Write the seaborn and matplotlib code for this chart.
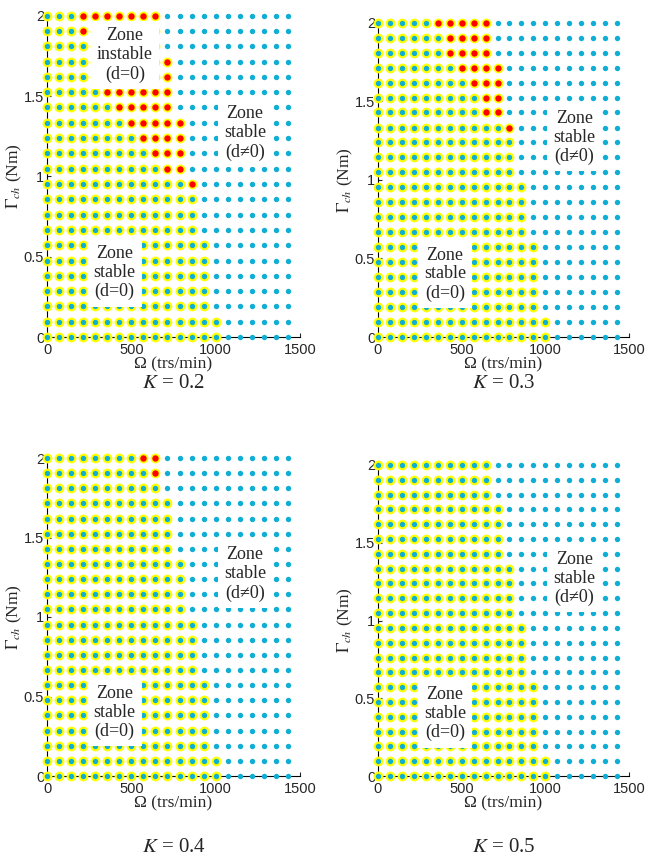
import pandas as pd
import matplotlib.pyplot as plt
import seaborn as sns

# grid of operating points
omega = [0, 71.4, 142.9, 214.3, 285.7, 357.1, 428.6, 500, 571.4, 642.9, 714.3,
         785.7, 857.1, 928.6, 1000, 1071.4, 1142.9, 1214.3, 1285.7, 1357.1, 1428.6]
gamma = [2.0, 1.905, 1.81, 1.714, 1.619, 1.524, 1.429, 1.333, 1.238, 1.143, 1.048,
         0.952, 0.857, 0.762, 0.667, 0.571, 0.476, 0.381, 0.286, 0.19, 0.095, 0.0]

# last column (index in omega) of the d=0 zone, one per gamma row
zone_last = [9, 9, 9, 10, 10, 10, 10, 11, 11, 11, 11, 12, 12, 12, 12, 13, 13, 13, 13, 13, 14, 14]

# instable points: (gamma row, first omega col, last omega col)
red_02 = [(0, 3, 9), (1, 3, 9), (3, 10, 10), (4, 10, 10), (5, 5, 10), (6, 6, 10),
          (7, 7, 11), (8, 8, 11), (9, 9, 11), (10, 10, 11), (11, 12, 12)]
red_03 = [(0, 5, 9), (1, 6, 9), (2, 6, 9), (3, 7, 10), (4, 8, 10), (5, 9, 10),
          (6, 9, 10), (7, 11, 11)]
red_04 = [(0, 8, 9), (1, 9, 9)]
red_05 = []

k_values = ["0.2", "0.3", "0.4", "0.5"]
red_sets = [red_02, red_03, red_04, red_05]

CYAN = "#0FAED4"
YELLOW = "#FFFF00"
RED = "#FF0000"
SERIF = ["Liberation Serif", "DejaVu Serif"]

sns.set_style("white")
plt.rcParams["font.family"] = ["Liberation Sans", "DejaVu Sans"]
plt.rcParams["mathtext.fontset"] = "stix"


def make_frame(red):
    rows = []
    red_cells = {(r, c) for r, a, b in red for c in range(a, b + 1)}
    for i, g in enumerate(gamma):
        for j, w in enumerate(omega):
            if (i, j) in red_cells:
                state = "instable"
            elif j <= zone_last[i]:
                state = "zone"
            else:
                state = "out"
            rows.append({"omega": w, "gamma": g, "state": state})
    return pd.DataFrame(rows)


W, H = 661, 865
fig = plt.figure(figsize=(W / 100, H / 100), dpi=100)

# axes boxes in pixels: left, right, top, bottom
boxes = [(47, 300, 15.7, 337), (378, 629, 22.7, 337),
         (47, 300, 458, 776), (378, 629, 465, 776)]
captions_y = [384, 384, 848, 848]

for k, red, (x0, x1, yt, yb), cy in zip(k_values, red_sets, boxes, captions_y):
    ax = fig.add_axes([x0 / W, 1 - yb / H, (x1 - x0) / W, (yb - yt) / H])
    df = make_frame(red)
    ring = df[df.state != "out"]

    sns.scatterplot(data=ring, x="omega", y="gamma", ax=ax, color=YELLOW, s=50,
                    linewidth=0, clip_on=False, zorder=3, legend=False)
    sns.scatterplot(data=df[df.state != "instable"], x="omega", y="gamma", ax=ax,
                    color=CYAN, s=15, linewidth=0, clip_on=False, zorder=4, legend=False)
    sns.scatterplot(data=df[df.state == "instable"], x="omega", y="gamma", ax=ax,
                    color=RED, s=21, linewidth=0, clip_on=False, zorder=4, legend=False)

    ax.set_xlim(0, 1500)
    ax.set_ylim(0, 2)
    ax.set_xticks([0, 500, 1000, 1500])
    ax.set_yticks([0, 0.5, 1, 1.5, 2])
    ax.set_yticklabels(["0", "0.5", "1", "1.5", "2"])
    sns.despine(ax=ax)
    for side in ["left", "bottom"]:
        ax.spines[side].set_color("black")
        ax.spines[side].set_linewidth(0.8)
        ax.spines[side].set_zorder(1)
    ax.tick_params(direction="in", length=3, width=0.8, labelsize=10.5, pad=2,
                   left=True, bottom=True)
    ax.tick_params(axis="x", pad=4)
    ax.set_xlabel("Ω (trs/min)", family=SERIF, fontsize=12.5, labelpad=0)
    ax.set_ylabel(r"$\Gamma_{ch}$ (Nm)", family=SERIF, fontsize=12.5, labelpad=0)

    box = dict(boxstyle="square,pad=0.35", fc="white", ec="none")
    ax.text(1175, 1.27, "Zone\nstable\n(d≠0)", family=SERIF, fontsize=13,
            ha="center", va="center", linespacing=1.15, bbox=box, zorder=6)
    ax.text(400, 0.40, "Zone\nstable\n(d=0)", family=SERIF, fontsize=13,
            ha="center", va="center", linespacing=1.15, bbox=box, zorder=6)
    if k == "0.2":
        ax.text(462, 1.755, "Zone\ninstable\n(d=0)", family=SERIF, fontsize=13,
                ha="center", va="center", linespacing=1.15, bbox=box, zorder=6)

    fig.text((x0 + x1) / 2 / W, 1 - cy / H, r"$K$ = " + k, family=SERIF,
             fontsize=15, ha="center", va="center")

fig.savefig("out.png", dpi=100)
